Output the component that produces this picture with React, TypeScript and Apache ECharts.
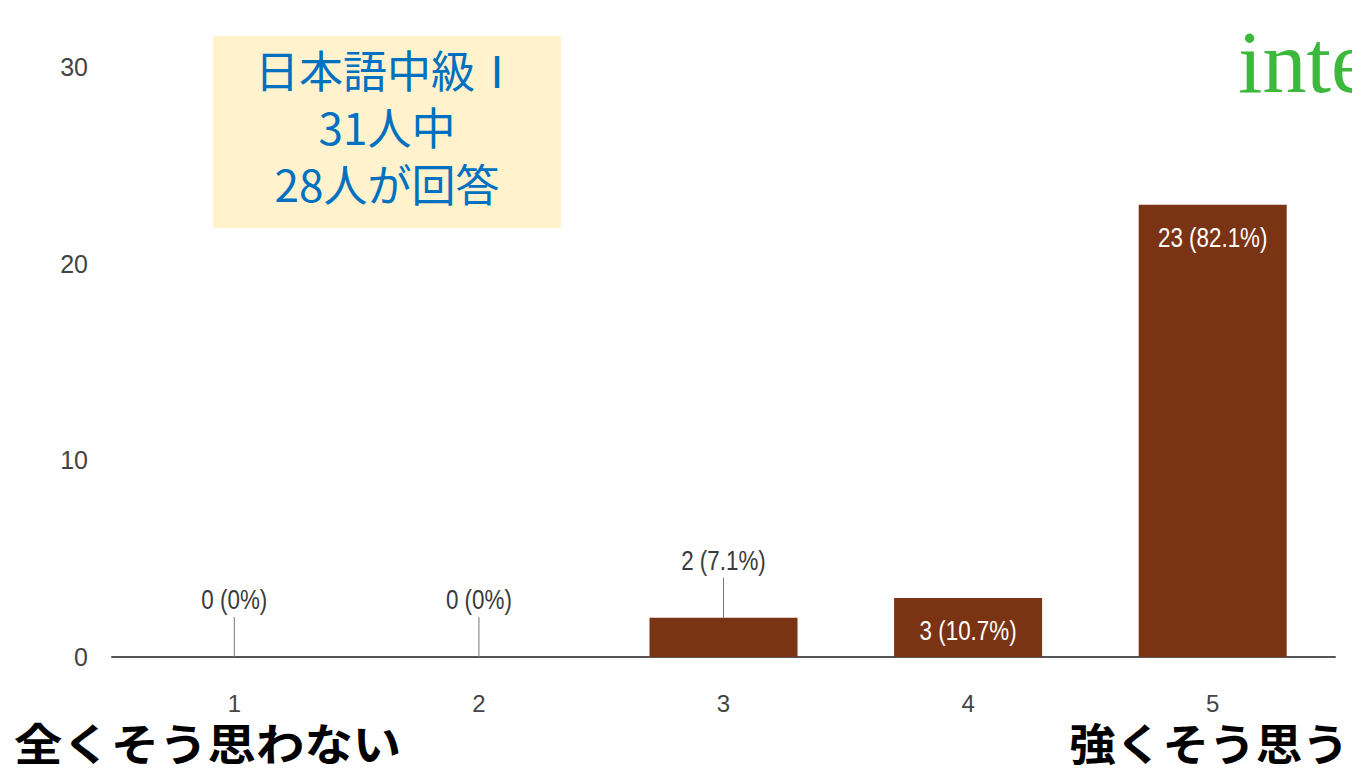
import React, { useEffect, useRef } from "react";
import * as echarts from "echarts";

const categories = ["1", "2", "3", "4", "5"];
const counts = [0, 0, 2, 3, 23];
const percents = ["0%", "0%", "7.1%", "10.7%", "82.1%"];
const yTicks = { min: 0, max: 30, interval: 10 };
const insideThreshold = 3; // values >= this get labels inside the bar
const boxLines = ["日本語中級Ⅰ", "31人中", "28人が回答"];
const leftNote = "全くそう思わない";
const rightNote = "強くそう思う";
const cornerText = "inte";

const SANS = "'Liberation Sans', Arial, sans-serif";
const BAR_COLOR = "#7a3313";

export default function App() {
  const ref = useRef<HTMLDivElement>(null);
  useEffect(() => {
    if (!ref.current) return;
    const chart = echarts.init(ref.current, null, { renderer: "svg" });
    const labelData = counts.map((v, i) => [i, v]);
    chart.setOption({
      animation: false,
      backgroundColor: "#ffffff",
      grid: { left: 112, right: 17, top: 67, bottom: 113 },
      xAxis: {
        type: "category",
        data: categories,
        axisTick: { show: false },
        axisLine: { lineStyle: { color: "#555555", width: 2 } },
        axisLabel: { margin: 34, fontSize: 24, color: "#444444", fontFamily: SANS },
      },
      yAxis: {
        type: "value",
        min: yTicks.min,
        max: yTicks.max,
        interval: yTicks.interval,
        splitLine: { show: false },
        axisLine: { show: false },
        axisTick: { show: false },
        axisLabel: { margin: 24, fontSize: 25, color: "#444444", fontFamily: SANS },
      },
      series: [
        {
          type: "bar",
          data: counts,
          barWidth: 148,
          itemStyle: { color: BAR_COLOR },
          z: 2,
        },
        {
          type: "custom",
          data: labelData,
          z: 3,
          renderItem: (params: any, api: any) => {
            const idx = api.value(0);
            const v = api.value(1);
            const pt = api.coord([idx, v]);
            const inside = v >= insideThreshold;
            const children: any[] = [];
            if (!inside) {
              children.push({
                type: "line",
                shape: { x1: pt[0], y1: pt[1], x2: pt[0], y2: pt[1] - 40 },
                style: { stroke: "#777777", lineWidth: 1 },
              });
            }
            children.push({
              type: "text",
              x: pt[0],
              y: inside ? pt[1] + 32 : pt[1] - 58,
              scaleX: 0.8,
              style: {
                text: `${counts[idx]} (${percents[idx]})`,
                fill: inside ? "#ffffff" : "#3a3a3a",
                fontSize: 28,
                fontFamily: SANS,
                align: "center",
                verticalAlign: "middle",
              },
            });
            return { type: "group", children };
          },
        },
      ],
      graphic: [
        {
          type: "rect",
          shape: { x: 213, y: 36, width: 348, height: 192 },
          style: { fill: "#fff2cc" },
        },
        {
          type: "text",
          x: 387,
          y: 126,
          style: {
            text: boxLines.join("\n"),
            fill: "#0070c0",
            font: "44px 'Noto Sans CJK JP', sans-serif",
            lineHeight: 57,
            align: "center",
            verticalAlign: "middle",
          },
        },
        {
          type: "text",
          x: 14,
          y: 741,
          scaleX: 1.1,
          style: {
            text: leftNote,
            fill: "#000000",
            font: "bold 44px 'Noto Sans CJK JP', sans-serif",
            lineHeight: 44,
            verticalAlign: "middle",
          },
        },
        {
          type: "text",
          x: 1349,
          y: 742,
          scaleX: 1.06,
          style: {
            text: rightNote,
            fill: "#000000",
            font: "bold 44px 'Noto Sans CJK JP', sans-serif",
            lineHeight: 44,
            align: "right",
            verticalAlign: "middle",
          },
        },
        {
          type: "text",
          x: 1238,
          y: 106,
          style: {
            text: cornerText,
            fill: "#3cb83c",
            font: "88px 'Liberation Serif', serif",
            verticalAlign: "bottom",
          },
        },
      ],
    });
    return () => chart.dispose();
  }, []);
  return <div ref={ref} style={{ width: 1352, height: 770, position: "absolute", left: 0, top: 0 }} />;
}
